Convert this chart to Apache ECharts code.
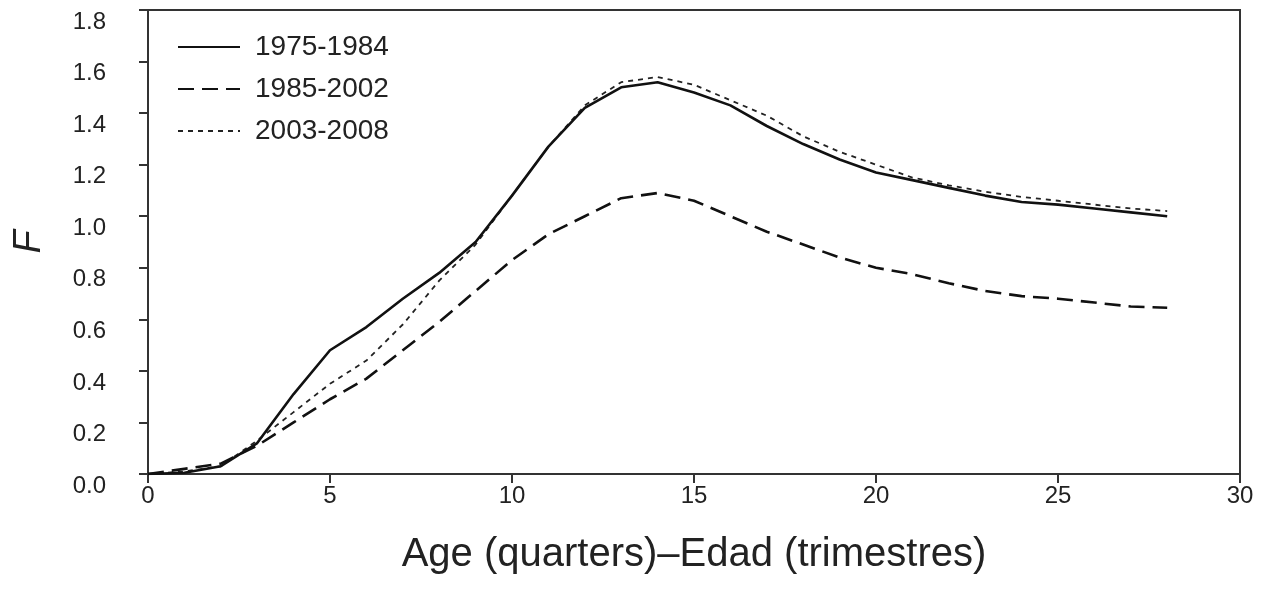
<!DOCTYPE html>
<html>
<head>
<meta charset="utf-8">
<script src="https://cdn.jsdelivr.net/npm/echarts@6/dist/echarts.min.js"></script>
<style>
  html, body { margin: 0; padding: 0; background: #ffffff; }
  #chart { width: 1266px; height: 599px; }
</style>
</head>
<body>
<div id="chart"></div>
<script>
// age in quarters
var ages = [0, 1, 2, 3, 4, 5, 6, 7, 8, 9, 10, 11, 12, 13, 14, 15, 16, 17, 18, 19, 20, 21, 22, 23, 24, 25, 26, 27, 28]

// fishing mortality F per period
var f1975 = [0, 0.005, 0.03, 0.12, 0.31, 0.48, 0.57, 0.68, 0.78, 0.90, 1.08, 1.27, 1.42, 1.50, 1.52, 1.48, 1.43, 1.35, 1.28, 1.22, 1.17, 1.14, 1.11, 1.08, 1.055, 1.045, 1.03, 1.015, 1.00]
var f1985 = [0, 0.02, 0.04, 0.11, 0.20, 0.29, 0.37, 0.48, 0.59, 0.71, 0.83, 0.93, 1.00, 1.07, 1.09, 1.06, 1.00, 0.94, 0.89, 0.84, 0.80, 0.775, 0.74, 0.71, 0.69, 0.68, 0.665, 0.65, 0.645]
var f2003 = [0, 0.01, 0.03, 0.13, 0.24, 0.35, 0.44, 0.58, 0.75, 0.89, 1.08, 1.27, 1.43, 1.52, 1.54, 1.51, 1.45, 1.39, 1.31, 1.25, 1.20, 1.15, 1.12, 1.095, 1.075, 1.06, 1.045, 1.03, 1.02]

var seriesNames = ['1975-1984', '1985-2002', '2003-2008']

function pairs(values) {
  var out = []
  for (let i = 0; i < ages.length; i++) {
    out.push([ages[i], values[i]])
  }
  return out
}

var font = '"Liberation Sans", Arial, sans-serif'
var ink = '#111111'

var myChart = echarts.init(document.getElementById('chart'))

var option = {
  backgroundColor: '#ffffff',
  animation: false,
  grid: {
    left: 148,
    right: 26,
    top: 10,
    bottom: 125,
    show: true,
    borderColor: '#333333',
    borderWidth: 2
  },
  legend: {
    orient: 'vertical',
    left: 172,
    top: 27,
    itemWidth: 62,
    itemHeight: 14,
    itemGap: 12,
    itemStyle: { opacity: 0 },
    textStyle: {
      fontFamily: font,
      fontSize: 28,
      lineHeight: 30,
      color: '#222222',
      padding: [0, 0, 0, 10]
    },
    data: seriesNames
  },
  xAxis: {
    type: 'value',
    min: 0,
    max: 30,
    interval: 5,
    name: 'Age (quarters)\u2013Edad (trimestres)',
    nameLocation: 'middle',
    nameGap: 61,
    nameTextStyle: {
      fontFamily: font,
      fontSize: 40,
      color: '#222222'
    },
    axisLine: { show: true, lineStyle: { color: '#333333', width: 2 } },
    axisTick: { show: true, inside: false, length: 9, lineStyle: { color: '#333333', width: 2 } },
    axisLabel: {
      margin: 10,
      fontFamily: font,
      fontSize: 24,
      color: '#222222'
    },
    splitLine: { show: false }
  },
  yAxis: {
    type: 'value',
    min: 0,
    max: 1.8,
    interval: 0.2,
    name: 'F',
    nameLocation: 'middle',
    nameRotate: 90,
    nameGap: 100,
    nameTextStyle: {
      fontFamily: font,
      fontSize: 38,
      fontStyle: 'italic',
      color: '#222222'
    },
    axisLine: { show: true, lineStyle: { color: '#333333', width: 2 } },
    axisTick: { show: true, inside: false, length: 9, lineStyle: { color: '#333333', width: 2 } },
    axisLabel: {
      margin: 42,
      fontFamily: font,
      fontSize: 24,
      color: '#222222',
      verticalAlign: 'top',
      formatter: function (v) { return v.toFixed(1) }
    },
    splitLine: { show: false }
  },
  series: [
    {
      name: seriesNames[0],
      type: 'line',
      symbol: 'none',
      data: pairs(f1975),
      lineStyle: { color: ink, width: 2.6, type: 'solid' },
      itemStyle: { color: ink },
      z: 3
    },
    {
      name: seriesNames[1],
      type: 'line',
      symbol: 'none',
      data: pairs(f1985),
      lineStyle: { color: ink, width: 2.6, type: [16, 8] },
      itemStyle: { color: ink },
      z: 2
    },
    {
      name: seriesNames[2],
      type: 'line',
      symbol: 'none',
      data: pairs(f2003),
      lineStyle: { color: '#222222', width: 1.8, type: [5, 5] },
      itemStyle: { color: '#222222' },
      z: 1
    }
  ]
}

myChart.setOption(option)
</script>
</body>
</html>
